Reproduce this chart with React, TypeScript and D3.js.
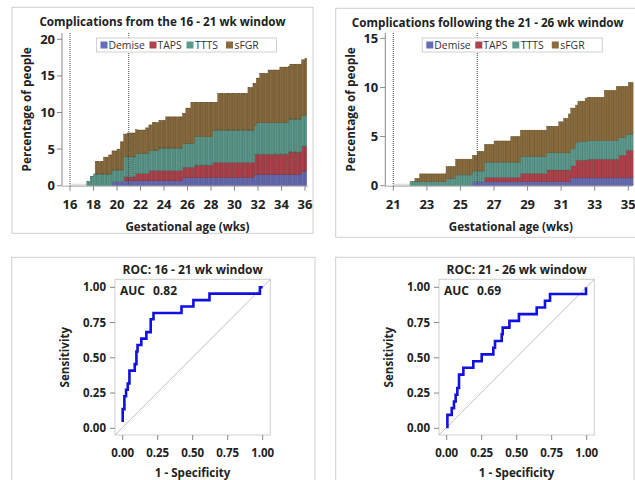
import React from "react";
import * as d3 from "d3";

// complication types and their colours
const causes = ["Demise", "TAPS", "TTTS", "sFGR"];
const causeColors = ["#666db5", "#b0414a", "#5b9a8d", "#8a6c3c"];

// cumulative % of people per type, as step points [week, value]
const demiseA = [[19.55, 0.55], [20.5, 0.7], [25.5, 1.1], [31.7, 1.55], [35.7, 2.0]];
const tapsA = [[20.5, 0.5], [21.5, 0.95], [22.7, 1.35], [25.5, 1.4], [26.5, 1.7], [28.1, 2.05], [31.7, 2.75], [34.6, 3.05], [35.7, 3.4]];
const tttsA = [[17.4, 0.55], [17.7, 1.3], [18.0, 1.6], [20.5, 2.75], [22.4, 2.8], [23.6, 3.1], [25.5, 3.3], [26.5, 3.9], [28.1, 4.45], [31.7, 3.9], [31.9, 4.3], [34.6, 4.5], [35.7, 4.25]];
const sfgrA = [[18.2, 1.7], [18.9, 2.3], [19.3, 2.6], [20.0, 2.85], [20.3, 3.85], [20.5, 3.1], [20.9, 3.25], [21.7, 3.2], [22.4, 3.45], [23.0, 3.75], [24.2, 4.25], [25.5, 4.1], [25.9, 4.8], [26.3, 5.6], [26.5, 4.7], [28.1, 3.8], [28.6, 5.0], [31.2, 5.8], [31.6, 6.4], [31.7, 5.8], [31.9, 6.1], [32.2, 6.75], [32.8, 7.2], [33.9, 7.6], [34.6, 7.2], [34.7, 7.5], [35.7, 7.55], [36.0, 7.75]];

const demiseB = [[25.7, 0.4], [31.6, 0.8]];
const tapsB = [[26.4, 0.45], [28.6, 0.85], [30.2, 1.2], [31.8, 1.8], [32.5, 1.9], [34.4, 2.3], [34.9, 2.8]];
const tttsB = [[22.05, 0.45], [24.1, 0.75], [24.7, 1.1], [26.4, 1.55], [28.6, 1.75], [31.6, 1.8], [32.0, 1.9], [34.4, 1.8], [34.9, 1.65]];
const sfgrB = [[22.3, 0.3], [22.6, 0.75], [24.1, 1.2], [24.7, 1.6], [26.0, 2.0], [26.4, 1.8], [27.05, 2.15], [28.0, 2.6], [28.6, 2.65], [30.2, 2.7], [30.9, 3.15], [31.1, 3.5], [31.4, 3.95], [31.6, 4.1], [31.8, 3.8], [32.0, 4.1], [32.4, 4.4], [33.6, 5.1], [34.3, 5.5], [34.4, 5.2], [34.9, 4.85], [35.0, 5.25]];

const weekTicksA = [16, 18, 20, 22, 24, 26, 28, 30, 32, 34, 36];
const weekTicksB = [21, 23, 25, 27, 29, 31, 33, 35];
const pctTicksA = [0, 5, 10, 15, 20];
const pctTicksB = [0, 5, 10, 15];

// ROC curves [1 - specificity, sensitivity]
const rocA = [[0, 0.045], [0, 0.136], [0.012, 0.227], [0.024, 0.273], [0.036, 0.318], [0.048, 0.409], [0.086, 0.455], [0.098, 0.545], [0.106, 0.591], [0.133, 0.636], [0.169, 0.682], [0.2, 0.773], [0.22, 0.818], [0.42, 0.864], [0.505, 0.909], [0.62, 0.955], [0.98, 1.0], [1.0, 1.0]];
const rocB = [[0.005, 0], [0.005, 0.095], [0.036, 0.143], [0.052, 0.19], [0.064, 0.238], [0.076, 0.286], [0.088, 0.381], [0.119, 0.429], [0.19, 0.476], [0.25, 0.524], [0.333, 0.571], [0.345, 0.619], [0.393, 0.667], [0.4, 0.714], [0.448, 0.762], [0.516, 0.81], [0.643, 0.857], [0.702, 0.905], [0.738, 0.952], [0.995, 1.0]];
const rocTicks = [0, 0.25, 0.5, 0.75, 1];

const FONT = "'Open Sans', 'DejaVu Sans', sans-serif";
const TXT = "#222";

const stepAt = (steps: number[][], wk: number) => {
  let v = 0;
  for (const [w, val] of steps) if (w <= wk) v = val;
  return v;
};

type PanelProps = {
  frame: number[];
  title: string;
  series: number[][][];
  start: number;
  end: number;
  xDom: number[];
  xRange: number[];
  yMax: number;
  yTop: number;
  xTicks: number[];
  yTicks: number[];
  dotted: number[];
  legendX: number;
};

const StackedPanel = (p: PanelProps) => {
  const x = d3.scaleLinear().domain(p.xDom).range(p.xRange);
  const y = d3.scaleLinear().domain([0, p.yMax]).range([185.7, p.yTop]);
  const axisX = p.xRange[0] - 8;
  const plotTop = 33;
  const day = 1 / 7;

  // one bar per day
  const rows: any[] = [];
  for (let wk = p.start; wk < p.end; wk += day) {
    const row: any = { wk };
    causes.forEach((c, i) => (row[c] = stepAt(p.series[i], wk + day / 2)));
    rows.push(row);
  }
  const stacked = d3.stack().keys(causes)(rows);
  const total = (r: any) => causes.reduce((s, c) => s + r[c], 0);

  const [fx, fy, fw, fh] = p.frame;
  const legendItems = [
    { dx: 4, tx: 12 },
    { dx: 53, tx: 61 },
    { dx: 90, tx: 98.5 },
    { dx: 129.5, tx: 138 },
  ];

  return (
    <g fontFamily={FONT}>
      <rect x={fx} y={fy} width={fw} height={fh} fill="white" stroke="#cfcfcf" />
      <text x={fx + fw / 2} y={fy + 14.5} dy="0.35em" textAnchor="middle" fontSize={11.7} fontWeight={700} fill={TXT}>
        {p.title}
      </text>

      {rows.filter((r) => total(r) === 0).map((r, i) => (
        <rect key={"z" + i} x={x(r.wk)} y={y(0) - 2} width={x(r.wk + day) - x(r.wk)} height={2} fill="#dcdcdc" />
      ))}
      {stacked.map((layer, li) => (
        <g key={li} fill={causeColors[li]} stroke={d3.color(causeColors[li])!.darker(0.9).toString()} strokeWidth={0.45}>
          {layer.map((d, i) =>
            d[1] - d[0] > 0 ? (
              <rect key={i} x={x(rows[i].wk)} y={y(d[1])} width={x(rows[i].wk + day) - x(rows[i].wk)} height={y(d[0]) - y(d[1])} />
            ) : null
          )}
        </g>
      ))}

      {p.dotted.map((w) => (
        <line key={w} x1={x(w)} x2={x(w)} y1={plotTop} y2={y(0)} stroke="#444" strokeDasharray="1,1" />
      ))}

      {/* y axis */}
      <line x1={axisX} x2={axisX} y1={plotTop} y2={y(0)} stroke="#888" />
      {p.yTicks.map((t) => (
        <g key={t}>
          <line x1={axisX - 5} x2={axisX} y1={y(t)} y2={y(t)} stroke="#888" />
          <text x={axisX - 7} y={y(t)} dy="0.35em" textAnchor="end" fontSize={13} fontWeight={700} fill={TXT}>
            {t}
          </text>
        </g>
      ))}
      <text transform={`translate(${fx + 15},${(plotTop + y(0)) / 2}) rotate(-90)`} dy="0.35em" textAnchor="middle" fontSize={11.8} fontWeight={700} fill={TXT}>
        Percentage of people
      </text>

      {/* x axis */}
      <line x1={axisX} x2={p.xRange[1] + 3} y1={y(0) + 0.5} y2={y(0) + 0.5} stroke="#aaa" />
      {p.xTicks.map((t) => (
        <g key={t}>
          <line x1={x(t)} x2={x(t)} y1={y(0)} y2={y(0) + 5} stroke="#888" />
          <text x={x(t)} y={204} dy="0.35em" textAnchor="middle" fontSize={13} fontWeight={700} fill={TXT}>
            {t}
          </text>
        </g>
      ))}
      <text x={(axisX + p.xRange[1]) / 2 + 4} y={227} dy="0.35em" textAnchor="middle" fontSize={11.6} fontWeight={700} fill={TXT}>
        Gestational age (wks)
      </text>

      {/* legend */}
      <rect x={p.legendX} y={38} width={180} height={14} fill="white" stroke="#cfcfcf" />
      {causes.map((c, i) => (
        <g key={c}>
          <rect x={p.legendX + legendItems[i].dx} y={41.5} width={7} height={7} fill={causeColors[i]} />
          <text x={p.legendX + legendItems[i].tx} y={45} dy="0.35em" fontSize={10.4} fill="#333">
            {c}
          </text>
        </g>
      ))}
    </g>
  );
};

type RocProps = {
  frame: number[];
  title: string;
  auc: string;
  points: number[][];
  left: number;
};

const RocPanel = (p: RocProps) => {
  const x = d3.scaleLinear().domain([0, 1]).range([p.left + 7.7, p.left + 147.7]);
  const y = d3.scaleLinear().domain([0, 1]).range([428.3, 287.3]);
  const boxL = p.left, boxR = p.left + 155.3, boxT = 279.3, boxB = 435;
  const line = d3.line().x((d) => x(d[0])).y((d) => y(d[1])).curve(d3.curveStepAfter);
  const fmt = d3.format(".2f");
  const [fx, fy, fw, fh] = p.frame;

  return (
    <g fontFamily={FONT}>
      <rect x={fx} y={fy} width={fw} height={fh} fill="white" stroke="#cfcfcf" />
      <text x={(boxL + boxR) / 2} y={269.5} dy="0.35em" textAnchor="middle" fontSize={12} fontWeight={700} fill={TXT}>
        {p.title}
      </text>
      <rect x={boxL} y={boxT} width={boxR - boxL} height={boxB - boxT} fill="none" stroke="#cfcfcf" />
      <line x1={boxL} y1={boxB} x2={boxR} y2={boxT} stroke="#b0b0b0" strokeWidth={0.8} />
      <path d={line(p.points as [number, number][]) || ""} fill="none" stroke="#1010e0" strokeWidth={2.6} />
      <text x={boxL + 5} y={291} dy="0.35em" fontSize={12} fontWeight={700} fill={TXT}>
        AUC
      </text>
      <text x={boxL + 38} y={291} dy="0.35em" fontSize={12} fontWeight={700} fill={TXT}>
        {p.auc}
      </text>

      {rocTicks.map((t) => (
        <g key={t}>
          <line x1={boxL - 5} x2={boxL} y1={y(t)} y2={y(t)} stroke="#888" />
          <text x={boxL - 9} y={y(t)} dy="0.35em" textAnchor="end" fontSize={11.5} fontWeight={700} fill={TXT}>
            {fmt(t)}
          </text>
          <line x1={x(t)} x2={x(t)} y1={boxB} y2={boxB + 5} stroke="#888" />
          <text x={x(t)} y={452.7} dy="0.35em" textAnchor="middle" fontSize={11.5} fontWeight={700} fill={TXT}>
            {fmt(t)}
          </text>
        </g>
      ))}
      <text transform={`translate(${boxL - 50},${(boxT + boxB) / 2}) rotate(-90)`} dy="0.35em" textAnchor="middle" fontSize={11.6} fontWeight={700} fill={TXT}>
        Sensitivity
      </text>
      <text x={(boxL + boxR) / 2} y={472.7} dy="0.35em" textAnchor="middle" fontSize={11.6} fontWeight={700} fill={TXT}>
        1 - Specificity
      </text>
    </g>
  );
};

export default function App() {
  return (
    <svg width={635} height={480} style={{ position: "absolute", left: 0, top: 0, background: "white" }}>
      <StackedPanel
        frame={[12, 7.3, 301, 226]}
        title="Complications from the 16 - 21 wk window"
        series={[demiseA, tapsA, tttsA, sfgrA]}
        start={16}
        end={36.14}
        xDom={[16, 36]}
        xRange={[70, 305]}
        yMax={20}
        yTop={39.3}
        xTicks={weekTicksA}
        yTicks={pctTicksA}
        dotted={[16, 21]}
        legendX={96.5}
      />
      <StackedPanel
        frame={[335.7, 8.3, 304, 229]}
        title="Complications following the 21 - 26 wk window"
        series={[demiseB, tapsB, tttsB, sfgrB]}
        start={21}
        end={35.16}
        xDom={[21, 35]}
        xRange={[393.3, 628.3]}
        yMax={15}
        yTop={38.3}
        xTicks={weekTicksB}
        yTicks={pctTicksB}
        dotted={[21, 26]}
        legendX={422.3}
      />
      <RocPanel frame={[11.7, 257.3, 303.3, 240]} title="ROC: 16 - 21 wk window" auc="0.82" points={rocA} left={115} />
      <RocPanel frame={[335.7, 257.3, 298.3, 240]} title="ROC: 21 - 26 wk window" auc="0.69" points={rocB} left={439} />
    </svg>
  );
}
